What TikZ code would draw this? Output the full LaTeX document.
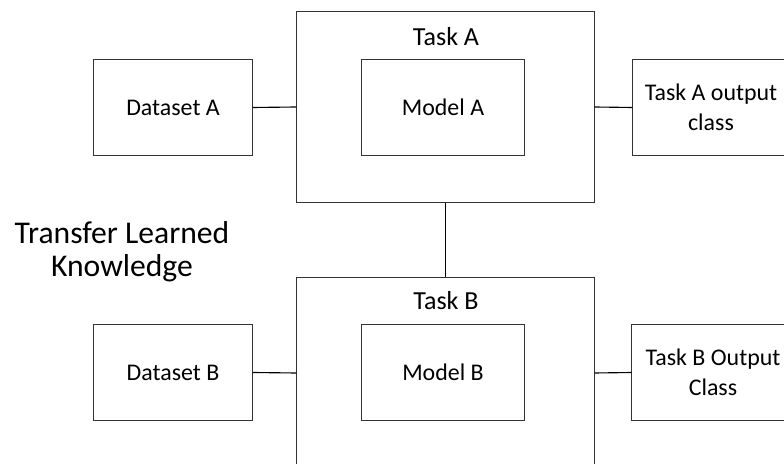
\documentclass[tikz,border=0pt]{standalone}
\usepackage{fontspec}
\setmainfont{Carlito}
\usepackage{tikz}
\usetikzlibrary{positioning}
\tikzset{
  box/.style={
    shape = rectangle,
    draw = black!80,
    line width = 0.7pt,
    inner sep = 0pt,
    minimum width = 3.95cm,
    minimum height = 2.375cm,
    align = center,
    font = \fontsize{17}{21.3}\selectfont
  },
  task/.style={
    box,
    minimum width = 7.425cm,
    minimum height = 4.75cm
  },
  lbl/.style={
    inner sep = 0pt,
    align = center,
    font = \fontsize{18.5}{21.3}\selectfont
  },
  link/.style={
    line width = 0.8pt
  }
}

\begin{document}
\begin{tikzpicture}[x=0.025cm, y=-0.025cm]
        \clip (0,0) rectangle (784,464);

        \node[task] (taskA) at (445.5,107) {};
        \node[task] (taskB) at (445.5,373) {};
        \node[lbl] (taskAlbl) at (446,37) {Task A};
        \node[lbl] (taskBlbl) at (446,301) {Task B};

        \node[box, minimum width=4.05cm] (modelA) at (443,107.5) {Model A};
        \node[box, minimum width=4.05cm] (modelB) at (443,372.5) {Model B};
        \node[box] (dataA) at (173,107.5) {Dataset A};
        \node[box] (dataB) at (173,372.5) {Dataset B};
        \node[box, minimum width=3.9cm] (outA) at (711,107.5) {Task A output\\class};
        \node[box, minimum width=4.05cm] (outB) at (713,372.5) {Task B Output\\Class};

        \node[lbl, font=\fontsize{22.5}{23.4}\selectfont] (transfer) at (122,252) {Transfer Learned\\Knowledge};

        \draw[link] (dataA.east) -- (taskA.west);
        \draw[link] (taskA.east) -- (outA.west);
        \draw[link] (dataB.east) -- (taskB.west);
        \draw[link] (taskB.east) -- (outB.west);
        \draw[link] (taskA.south) -- (taskB.north);
    \end{tikzpicture}
\end{document}
